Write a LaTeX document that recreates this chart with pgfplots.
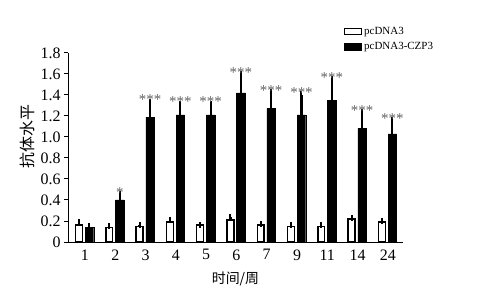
\documentclass[border=0pt]{standalone}
\usepackage{pgfplots}
\pgfplotsset{compat=1.18}
\usepackage{fontspec}
\setmainfont{Liberation Serif}
\newfontfamily\cjk{Noto Sans CJK SC}
\pgfplotstableread{
x mean err
0 0.16 0.03
1 0.14 0.01
2 0.15 0.01
3 0.19 0.02
4 0.16 0.005
5 0.21 0.03
6 0.16 0.01
7 0.15 0.01
8 0.15 0.01
9 0.22 0.01
10 0.19 0.01
}\ctrl
\pgfplotstableread{
x mean err
0 0.14 0.0
1 0.40 0.05
2 1.19 0.14
3 1.21 0.10
4 1.21 0.10
5 1.42 0.17
6 1.27 0.15
7 1.21 0.19
8 1.35 0.19
9 1.08 0.15
10 1.03 0.12
}\czp
\pgfplotstableread{
x top lab
1 0.45 *
2 1.33 ***
3 1.31 ***
4 1.31 ***
5 1.59 ***
6 1.42 ***
7 1.40 ***
8 1.54 ***
9 1.23 ***
10 1.15 ***
}\stars
\begin{document}
\begin{tikzpicture}
\useasboundingbox (0,0) rectangle (480bp,300bp);
\begin{axis}[
  at={(68bp,58bp)}, anchor=south west,
  scale only axis, width=335bp, height=189bp,
  ybar,
  xmin=-0.56, xmax=10.5, ymin=0, ymax=1.8,
  axis x line=bottom, axis y line=left,
  axis line style={-, line width=1bp},
  xtick={0,...,10},
  xticklabels={1,2,3,4,5,6,7,9,11,14,24},
  x tick style={draw=none},
  ytick={0,0.2,...,1.8},
  yticklabels={0,0.2,0.4,0.6,0.8,1.0,1.2,1.4,1.6,1.8},
  y tick style={line width=1bp, black},
  tick align=outside, major tick length=4bp,
  tick label style={font=\fontsize{16}{18}\selectfont},
  ylabel={\cjk 抗体水平},
  every axis y label/.style={at={(axis description cs:-0.12,0.56)}, anchor=center, rotate=90, font=\fontsize{16}{18}\selectfont},
  xlabel={\cjk 时间/周},
  every axis x label/.style={at={(axis description cs:0.5,-0.196)}, anchor=center, font=\fontsize{14}{16}\selectfont},
  legend style={at={(0.82,1.155)}, anchor=north west, draw=none, fill=none,
    font=\fontsize{11}{12}\selectfont, row sep=3bp, inner sep=1bp},
  legend image code/.code={\draw[#1, line width=1.3bp] (0bp,-3bp) rectangle (17bp,3bp);},
  legend cell align=left,
  clip=false,
]
\addplot[bar width=6.8bp, bar shift=-6bp, fill=white, draw=black, line width=1.4bp,
  error bars/.cd, y dir=plus, y explicit, error mark=-,
  error bar style={line width=2.2bp, draw=black},
  error mark options={line width=2bp, mark size=3bp, draw=black}]
  table[x=x, y=mean, y error=err]{\ctrl};
\addlegendentry{pcDNA3}
\addplot[bar width=8.5bp, bar shift=4.5bp, fill=black, draw=black, line width=0.4bp,
  error bars/.cd, y dir=plus, y explicit, error mark=-,
  error bar style={line width=2.2bp, draw=black},
  error mark options={line width=2bp, mark size=3.8bp, draw=black}]
  table[x=x, y=mean, y error=err]{\czp};
\addlegendentry{pcDNA3-CZP3}
\addplot[bar width=8bp, bar shift=4.5bp, draw=none, fill=none, forget plot,
  nodes near coords, point meta=explicit symbolic,
  nodes near coords style={anchor=base, yshift=-2.5bp, text=black!62,
    font=\fontsize{15}{16}\selectfont, inner sep=0pt}]
  table[x=x, y=top, meta=lab]{\stars};
\end{axis}
\end{tikzpicture}
\end{document}
